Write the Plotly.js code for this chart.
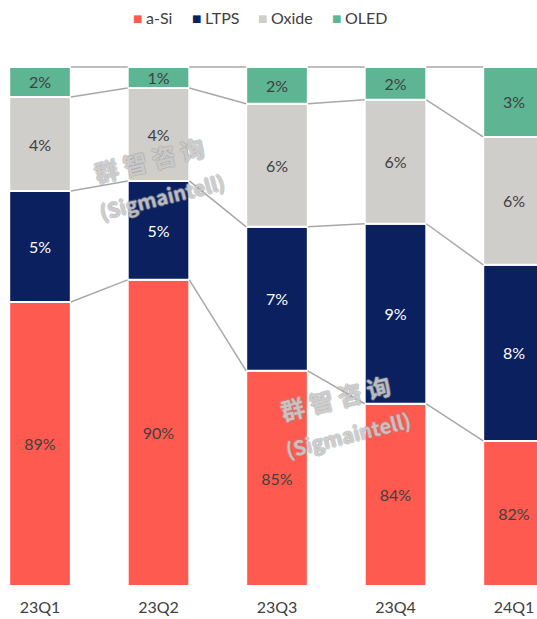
<!DOCTYPE html>
<html>
<head>
<meta charset="utf-8">
<script src="https://cdn.plot.ly/plotly-3.0.1.min.js"></script>
<style>html,body{margin:0;padding:0;background:#fff;}#chart{width:537px;height:619px;}</style>
</head>
<body>
<div id="chart"></div>
<script>
// Data
const categories = ["23Q1", "23Q2", "23Q3", "23Q4", "24Q1"];
const seriesNames = ["a-Si", "LTPS", "Oxide", "OLED"];
const aSi   = [89.36, 90.36, 86.24, 84.75, 83.07];
const ltps  = [5.02, 4.48, 6.52, 8.15, 7.97];
const oxide = [4.26, 4.21, 5.57, 5.61, 5.79];
const oled  = [1.36, 0.95, 1.67, 1.49, 3.17];
const aSiLabels   = ["89%", "90%", "85%", "84%", "82%"];
const ltpsLabels  = ["5%", "5%", "7%", "9%", "8%"];
const oxideLabels = ["4%", "4%", "6%", "6%", "6%"];
const oledLabels  = ["2%", "1%", "2%", "2%", "3%"];

const axisMin = 76.5;
const barW = 0.52;
const xs = categories.map((c, i) => i);

const font = "Lato, 'Open Sans', sans-serif";
const seriesColors = ["#FF5A4F", "#0B205E", "#D0CECB", "#5DB594"];
const textDark = "#404040";

const ltpsBase = aSi.slice();
const oxideBase = aSi.map((v, i) => v + ltps[i]);
const oledBase = oxideBase.map((v, i) => v + oxide[i]);
const topVals = oledBase.map((v, i) => v + oled[i]);

function barTrace(name, y, base, text, color, textColor) {
  return {
    type: "bar", name: name, x: xs, y: y, base: base, width: barW,
    text: text, textposition: "inside", insidetextanchor: "middle", textangle: 0,
    constraintext: "none", cliponaxis: false,
    textfont: {family: font, size: 16, color: textColor},
    marker: {color: color, line: {color: "#FFFFFF", width: 2}},
    hoverinfo: "skip", showlegend: false
  };
}

// connector lines between adjacent bars at each boundary
const levels = [aSi, oxideBase, oledBase, topVals];
const cx = [], cy = [];
levels.forEach(lv => {
  for (let i = 0; i < xs.length - 1; i++) {
    cx.push(xs[i] + barW / 2, xs[i + 1] - barW / 2, null);
    cy.push(lv[i], lv[i + 1], null);
  }
});

const traces = [
  {type: "scatter", mode: "lines", x: cx, y: cy, showlegend: false, hoverinfo: "skip",
   line: {color: "#A8A8A8", width: 1.5}, connectgaps: false},
  barTrace(seriesNames[0], aSi.map(v => v - axisMin), aSi.map(() => axisMin), aSiLabels, seriesColors[0], textDark),
  barTrace(seriesNames[1], ltps, ltpsBase, ltpsLabels, seriesColors[1], "#FFFFFF"),
  barTrace(seriesNames[2], oxide, oxideBase, oxideLabels, seriesColors[2], textDark),
  barTrace(seriesNames[3], oled, oledBase, oledLabels, seriesColors[3], textDark)
];

const W = 537, plotTop = 55, plotBottom = 586;
function px(x) { return x / W; }
function py(y) { return (plotBottom - y) / (plotBottom - plotTop); }

const wmShadow = "1px 0 0 #999999, -1px 0 0 #999999, 0 1px 0 #999999, 0 -1px 0 #999999";
function wm(text, x, y, size) {
  return {text: text, xref: "paper", yref: "paper", x: px(x), y: py(y), xanchor: "center", yanchor: "middle",
          showarrow: false, textangle: -14,
          font: {family: "'Noto Sans CJK SC', sans-serif", size: size, color: "rgba(255,255,255,0.45)", weight: 700, shadow: wmShadow}};
}

// manual legend (compact like the reference)
const legendSquareX = [132, 191, 257, 331];
const legendAnn = [];
seriesNames.forEach((n, i) => {
  legendAnn.push({text: "■", xref: "paper", yref: "paper", x: px(legendSquareX[i] - 1), y: py(19),
    xanchor: "left", yanchor: "middle", showarrow: false,
    font: {family: "'DejaVu Sans', sans-serif", size: 10, color: seriesColors[i]}});
  legendAnn.push({text: n, xref: "paper", yref: "paper", x: px(legendSquareX[i] + 12), y: py(18),
    xanchor: "left", yanchor: "middle", showarrow: false,
    font: {family: font, size: 16, color: textDark}});
});

const layout = {
  width: 537, height: 619,
  margin: {l: 0, r: 0, t: plotTop, b: 619 - plotBottom},
  paper_bgcolor: "#FFFFFF", plot_bgcolor: "#FFFFFF",
  barmode: "overlay",
  showlegend: false,
  xaxis: {range: [-0.3376, 4.194], tickmode: "array", tickvals: xs, ticktext: categories,
          showgrid: false, zeroline: false, showline: false, ticks: "", ticklabelstandoff: 10,
          tickfont: {family: font, size: 16, color: textDark}, fixedrange: true},
  yaxis: {range: [axisMin, 100.54], visible: false, fixedrange: true},
  annotations: legendAnn.concat([
    wm("群 智 咨 询", 149, 160, 24),
    wm("(Sigmaintell)", 162, 196, 20),
    wm("群 智 咨 询", 335, 397, 24),
    wm("(Sigmaintell)", 348, 434, 20)
  ])
};

Plotly.newPlot("chart", traces, layout, {displayModeBar: false, staticPlot: true});
</script>
</body>
</html>
